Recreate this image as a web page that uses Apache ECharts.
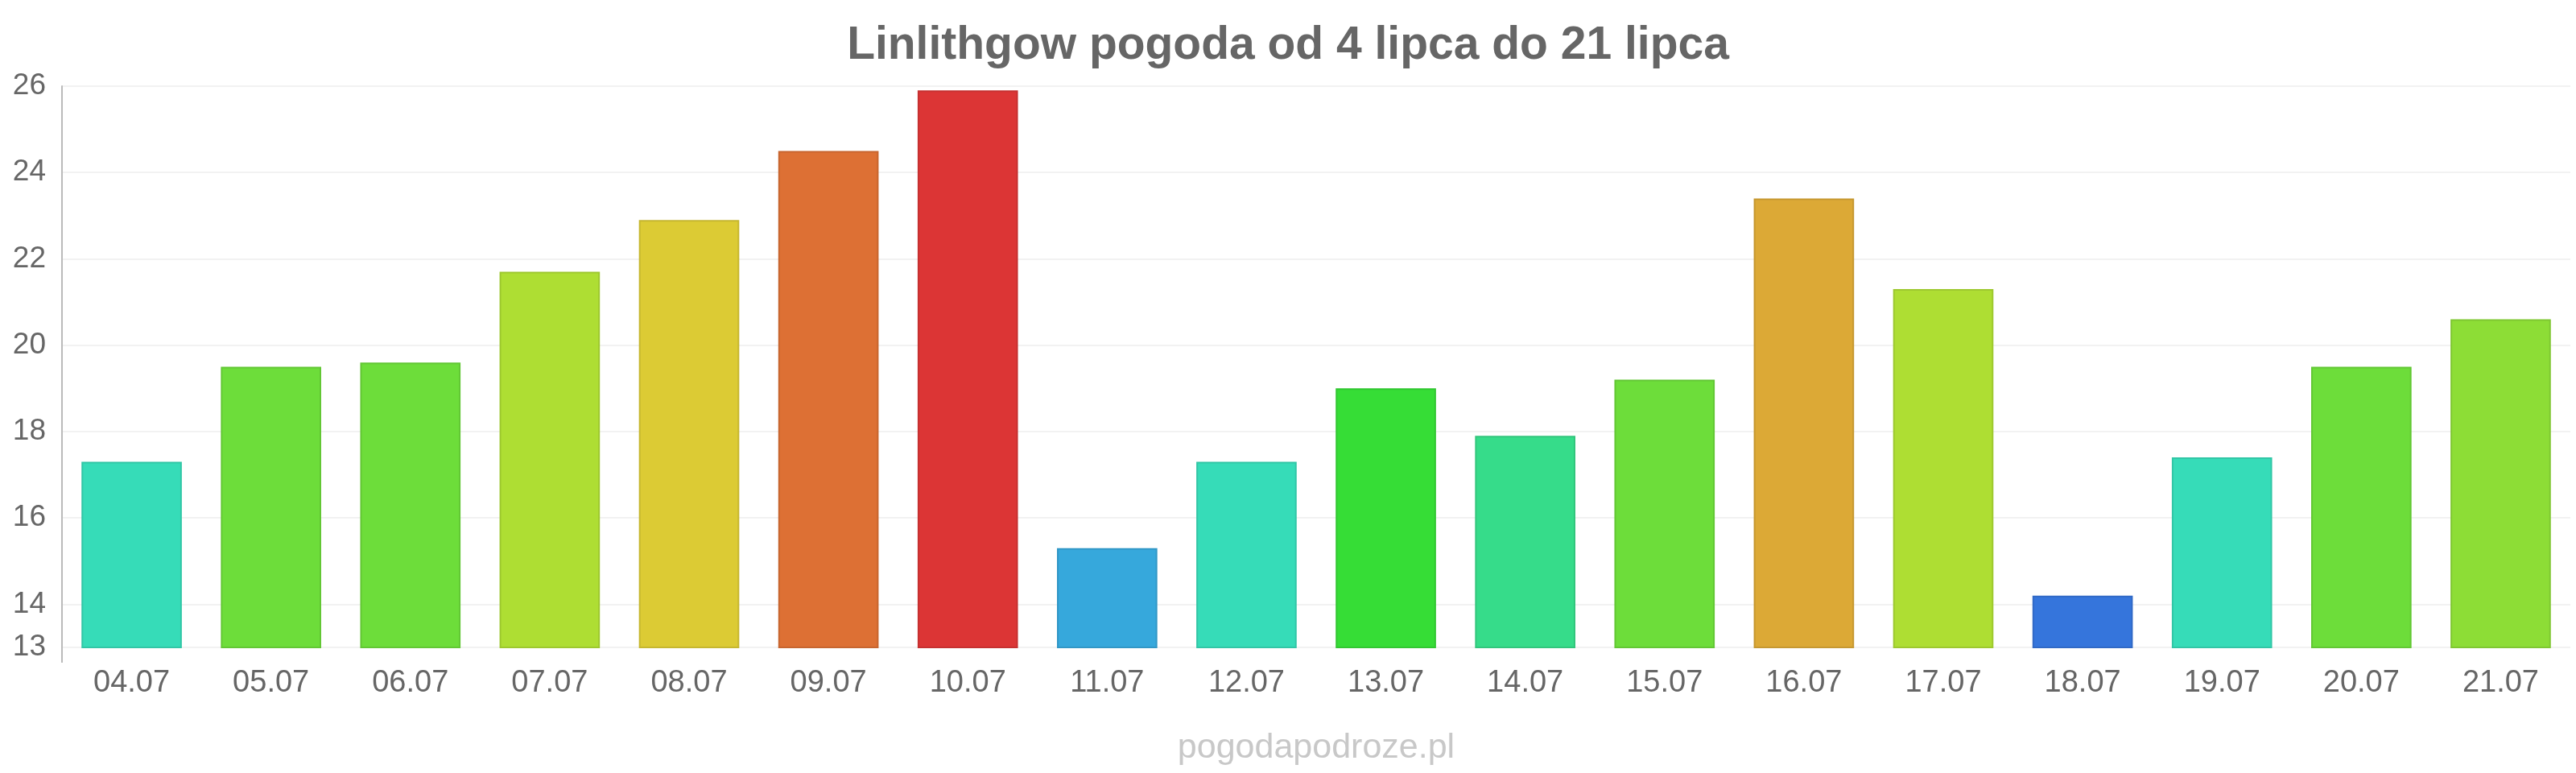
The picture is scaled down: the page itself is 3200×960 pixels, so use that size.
<!DOCTYPE html>
<html>
<head>
<meta charset="utf-8">
<script src="https://cdn.jsdelivr.net/npm/echarts@6/dist/echarts.min.js"></script>
<style>
html,body{margin:0;padding:0;background:#fff;}
#c{width:3200px;height:960px;}
</style>
</head>
<body>
<div id="c"></div>
<script>
const titleText = 'Linlithgow pogoda od 4 lipca do 21 lipca';
const watermark = 'pogodapodroze.pl';
const categories = ['04.07','05.07','06.07','07.07','08.07','09.07','10.07','11.07','12.07','13.07','14.07','15.07','16.07','17.07','18.07','19.07','20.07','21.07'];
const temps = [17.3, 19.5, 19.6, 21.7, 22.9, 24.5, 25.9, 15.3, 17.3, 19.0, 17.9, 19.2, 23.4, 21.3, 14.2, 17.4, 19.5, 20.6];
const barColors = ['#36dcb8','#6ddd3a','#6ddd3a','#aede33','#dccb34','#dd7034','#dc3535','#36a8dc','#36dcb8','#36dd36','#36dc8a','#6ddd3a','#dca936','#aede33','#3575dc','#36dcb8','#6ddd3a','#8ddd36'];
const yTicks = [13, 14, 16, 18, 20, 22, 24, 26];
const yMin = 13, yMax = 26;

function darken(hex, f) {
  const n = parseInt(hex.slice(1), 16);
  const r = Math.round(((n >> 16) & 255) * f), g = Math.round(((n >> 8) & 255) * f), b = Math.round((n & 255) * f);
  return 'rgb(' + r + ',' + g + ',' + b + ')';
}

const FONT = '"Liberation Sans", Arial, sans-serif';
const chart = echarts.init(document.getElementById('c'));
chart.setOption({
  backgroundColor: '#ffffff',
  animation: false,
  title: {
    text: titleText,
    left: 'center',
    top: 24,
    textStyle: { fontFamily: FONT, fontSize: 57, fontWeight: 'bold', color: '#666666' }
  },
  grid: { left: 77, right: 7, top: 107, bottom: 156, containLabel: false },
  xAxis: {
    type: 'category',
    data: categories,
    axisLine: { show: false },
    axisTick: { show: false },
    axisLabel: { fontFamily: FONT, fontSize: 38, color: '#666666', margin: 26 }
  },
  yAxis: {
    type: 'value',
    min: yMin,
    max: yMax,
    axisLine: { show: true, lineStyle: { color: '#bbbbbb', width: 2 } },
    axisTick: { show: false, customValues: yTicks },
    axisLabel: { fontFamily: FONT, fontSize: 37, color: '#666666', margin: 20, customValues: yTicks },
    splitLine: { show: true, lineStyle: { color: '#f2f2f2', width: 2 } }
  },
  series: [{
    type: 'bar',
    barWidth: '72%',
    data: temps.map((v, i) => ({
      value: v,
      itemStyle: { color: barColors[i], borderColor: darken(barColors[i], 0.9), borderWidth: 2 }
    }))
  }]
});

const yBottom = chart.convertToPixel({ yAxisIndex: 0 }, yMin);
const gridLeft = 77;
chart.setOption({
  graphic: [
    { type: 'line', shape: { x1: gridLeft, y1: yBottom, x2: gridLeft, y2: yBottom + 19 }, style: { stroke: '#bbbbbb', lineWidth: 2 } },
    { type: 'text', x: 1635, y: 929, style: { text: watermark, fontFamily: FONT, fontSize: 43, fill: '#c8c8c8', align: 'center', verticalAlign: 'middle' } }
  ]
});
</script>
</body>
</html>
